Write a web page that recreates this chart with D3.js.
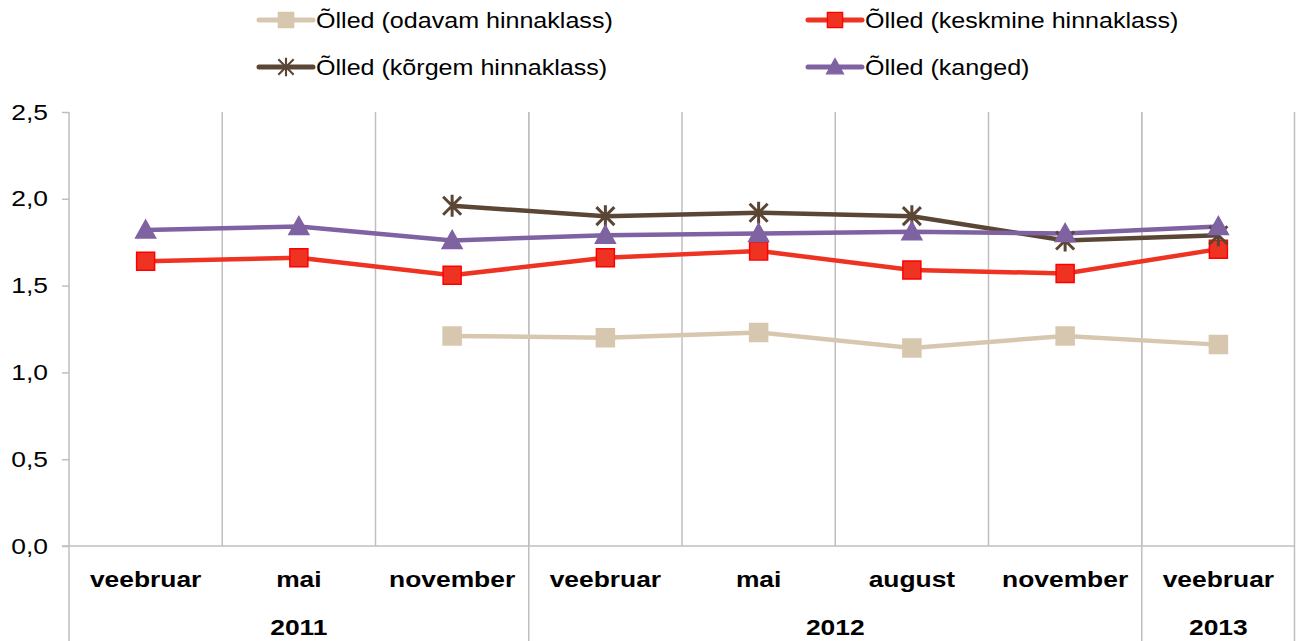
<!DOCTYPE html>
<html>
<head>
<meta charset="utf-8">
<script src="https://cdn.jsdelivr.net/npm/d3@7"></script>
<style>
  body { margin: 0; background: #fff; }
  text { font-family: "Liberation Sans", Arial, sans-serif; }
</style>
</head>
<body>
<div class="chart"></div>
<script>
//Chart data
var months = ["veebruar", "mai", "november", "veebruar", "mai", "august", "november", "veebruar"];
var years = [
    {label: "2011", from: 0, to: 2},
    {label: "2012", from: 3, to: 6},
    {label: "2013", from: 7, to: 7}
];
var odavam = [null, null, 1.21, 1.20, 1.23, 1.14, 1.21, 1.16];
var keskmine = [1.64, 1.66, 1.56, 1.66, 1.70, 1.59, 1.57, 1.71];
var korgem = [null, null, 1.96, 1.90, 1.92, 1.90, 1.76, 1.79];
var kanged = [1.82, 1.84, 1.76, 1.79, 1.80, 1.81, 1.80, 1.84];
var yTicks = [0, 0.5, 1.0, 1.5, 2.0, 2.5];

var series = [
    {name: "Õlled (odavam hinnaklass)", values: odavam, color: "#d8c7af", marker: "square", border: "#d8c7af"},
    {name: "Õlled (keskmine hinnaklass)", values: keskmine, color: "#ee3322", marker: "square", border: "#ff0000"},
    {name: "Õlled (kõrgem hinnaklass)", values: korgem, color: "#5b4636", marker: "star", border: "#5b4636"},
    {name: "Õlled (kanged)", values: kanged, color: "#7f62a1", marker: "triangle", border: "#7f62a1"}
];

//Bounds
var svgWidth = 1296;
var svgHeight = 641;
var margin = {top: 112, bottom: 95, left: 69, right: 1};
var chartWidth = svgWidth - margin.left - margin.right;
var chartHeight = svgHeight - margin.top - margin.bottom;

//text in the original is a bit wider than Arial
var stretch = 1.2;

var svg = d3.select(".chart")
    .append("svg")
    .attr("width", svgWidth)
    .attr("height", svgHeight);

var chartGroup = svg.append("g")
    .attr("transform", `translate(${margin.left}, ${margin.top})`);

//Scales
var xScale = d3.scaleBand()
    .domain(d3.range(months.length))
    .range([0, chartWidth]);

var yScale = d3.scaleLinear()
    .domain([0, 2.5])
    .range([chartHeight, 0]);

var gridColor = "#bfbfbf";

//Vertical gridlines between categories
chartGroup.selectAll(".vgrid")
    .data(d3.range(1, months.length))
    .enter()
    .append("line")
    .attr("x1", d => xScale(d))
    .attr("x2", d => xScale(d))
    .attr("y1", 0)
    .attr("y2", chartHeight)
    .attr("stroke", gridColor)
    .attr("stroke-width", 1.5);

//Year separators, going down through the label rows
var yearEdges = [0].concat(years.map(d => d.to + 1));
chartGroup.selectAll(".ysep")
    .data(yearEdges)
    .enter()
    .append("line")
    .attr("x1", d => d === months.length ? chartWidth - 0.5 : xScale(d))
    .attr("x2", d => d === months.length ? chartWidth - 0.5 : xScale(d))
    .attr("y1", 0)
    .attr("y2", svgHeight - margin.top)
    .attr("stroke", gridColor)
    .attr("stroke-width", 1.5);

//Left axis
var leftAxis = d3.axisLeft(yScale)
    .tickValues(yTicks)
    .tickSize(7)
    .tickPadding(14)
    .tickFormat(d => d3.format(".1f")(d).replace(".", ","));

var yAxisG = chartGroup.append("g").call(leftAxis);
yAxisG.select(".domain").remove();
yAxisG.selectAll(".tick line").attr("stroke", gridColor).attr("stroke-width", 1.5);
yAxisG.selectAll(".tick text")
    .attr("font-size", "22px")
    .attr("fill", "#000")
    .attr("transform", `translate(-21,0) scale(${stretch},1) translate(21,0)`);

//Bottom axis line
chartGroup.append("line")
    .attr("x1", -7)
    .attr("x2", chartWidth)
    .attr("y1", chartHeight)
    .attr("y2", chartHeight)
    .attr("stroke", gridColor)
    .attr("stroke-width", 1.5);

//Month labels
chartGroup.selectAll(".month")
    .data(months)
    .enter()
    .append("text")
    .attr("transform", (d, i) => `translate(${xScale(i) + xScale.bandwidth() / 2}, ${chartHeight + 41}) scale(${stretch},1)`)
    .attr("text-anchor", "middle")
    .attr("font-size", "22px")
    .attr("font-weight", "bold")
    .text(d => d);

//Year labels
chartGroup.selectAll(".year")
    .data(years)
    .enter()
    .append("text")
    .attr("transform", d => `translate(${(xScale(d.from) + xScale(d.to) + xScale.bandwidth()) / 2}, ${chartHeight + 89}) scale(${stretch},1)`)
    .attr("text-anchor", "middle")
    .attr("font-size", "22px")
    .attr("font-weight", "bold")
    .text(d => d.label);

//Markers
function markerPath(type) {
    if (type === "square") return "M-9,-9H9V9H-9Z";
    if (type === "triangle") return "M0,-10L10,8H-10Z";
    return "M-9,-9L9,9M-9,9L9,-9M0,-11V11";
}

var line = d3.line()
    .defined(d => d != null)
    .x((d, i) => xScale(i) + xScale.bandwidth() / 2)
    .y(d => yScale(d));

series.forEach(function(s) {
    chartGroup.append("path")
        .datum(s.values)
        .attr("d", line)
        .attr("fill", "none")
        .attr("stroke", s.color)
        .attr("stroke-width", 4.5)
        .attr("stroke-linejoin", "round");
});

series.forEach(function(s) {
    var pts = s.values.map((v, i) => ({v: v, i: i})).filter(d => d.v != null);
    chartGroup.selectAll(null)
        .data(pts)
        .enter()
        .append("path")
        .attr("transform", d => `translate(${xScale(d.i) + xScale.bandwidth() / 2}, ${yScale(d.v)})`)
        .attr("d", markerPath(s.marker))
        .attr("fill", s.marker === "star" ? "none" : s.color)
        .attr("stroke", s.border)
        .attr("stroke-width", s.marker === "star" ? 3 : 1.5);
});

//Legend
var legendPos = [
    {x: 259, y: 20},
    {x: 808, y: 20},
    {x: 259, y: 67},
    {x: 808, y: 67}
];
var legend = svg.selectAll(".legend")
    .data(series)
    .enter()
    .append("g")
    .attr("transform", (d, i) => `translate(${legendPos[i].x}, ${legendPos[i].y})`);

legend.append("line")
    .attr("x1", 0)
    .attr("x2", 54)
    .attr("stroke", d => d.color)
    .attr("stroke-width", 5)
    .attr("stroke-linecap", "round");

legend.append("path")
    .attr("transform", "translate(27,0) scale(0.85)")
    .attr("d", d => markerPath(d.marker))
    .attr("fill", d => d.marker === "star" ? "none" : d.color)
    .attr("stroke", d => d.border)
    .attr("stroke-width", d => d.marker === "star" ? 2.5 : 1.5);

legend.append("text")
    .attr("transform", "translate(57,8) scale(1.14,1)")
    .attr("font-size", "22px")
    .attr("fill", "#000")
    .text(d => d.name);
</script>
</body>
</html>
